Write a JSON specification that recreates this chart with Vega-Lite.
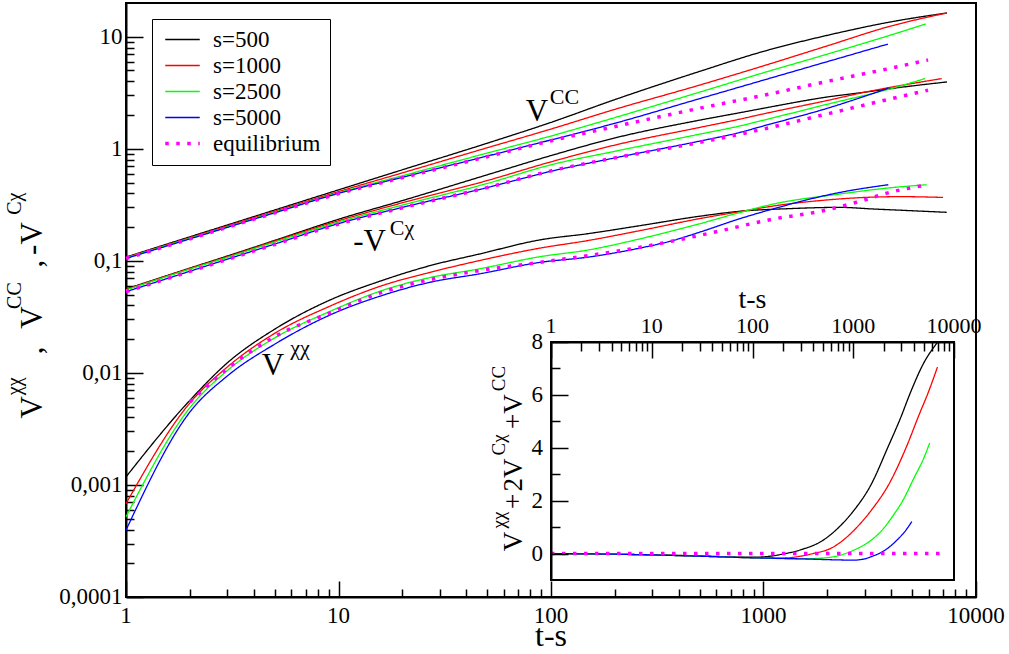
{
  "$schema": "https://vega.github.io/schema/vega-lite/v6.json",
  "autosize": {"type": "none"},
  "padding": {"left": 126, "top": 3, "right": 33, "bottom": 57},
  "width": 850,
  "height": 594,
  "background": "white",
  "config": {
    "font": "Liberation Serif",
    "view": {"stroke": "black", "strokeWidth": 2},
    "axis": {
      "domainColor": "black", "tickColor": "black", "grid": false,
      "domainWidth": 2, "tickWidth": 1.5, "labels": false, "title": null
    },
    "legend": {
      "labelFont": "Liberation Serif", "labelFontSize": 23, "labelColor": "black",
      "fillColor": "white", "strokeColor": "black", "padding": 9,
      "symbolType": "M-2.3,0H2.3", "symbolSize": 225, "symbolOffset": 10,
      "rowPadding": 2, "labelOffset": 19
    },
    "text": {"font": "Liberation Serif", "color": "black"}
  },
  "datasets": {
    "main": [
      {"series": "s=500", "group": "CC", "t": 1, "v": 0.108}, {"series": "s=500", "group": "CC", "t": 2, "v": 0.164}, {"series": "s=500", "group": "CC", "t": 3, "v": 0.209}, {"series": "s=500", "group": "CC", "t": 5, "v": 0.284}, {"series": "s=500", "group": "CC", "t": 10, "v": 0.43}, {"series": "s=500", "group": "CC", "t": 20, "v": 0.65}, {"series": "s=500", "group": "CC", "t": 50, "v": 1.12}, {"series": "s=500", "group": "CC", "t": 100, "v": 1.72}, {"series": "s=500", "group": "CC", "t": 200, "v": 2.75}, {"series": "s=500", "group": "CC", "t": 500, "v": 4.9}, {"series": "s=500", "group": "CC", "t": 1000, "v": 7.4}, {"series": "s=500", "group": "CC", "t": 2000, "v": 10.3}, {"series": "s=500", "group": "CC", "t": 4000, "v": 13.6}, {"series": "s=500", "group": "CC", "t": 7300, "v": 16.3},
      {"series": "s=500", "group": "Cx", "t": 1, "v": 0.056}, {"series": "s=500", "group": "Cx", "t": 2, "v": 0.0862}, {"series": "s=500", "group": "Cx", "t": 3, "v": 0.1105}, {"series": "s=500", "group": "Cx", "t": 5, "v": 0.152}, {"series": "s=500", "group": "Cx", "t": 10, "v": 0.235}, {"series": "s=500", "group": "Cx", "t": 20, "v": 0.345}, {"series": "s=500", "group": "Cx", "t": 50, "v": 0.585}, {"series": "s=500", "group": "Cx", "t": 100, "v": 0.87}, {"series": "s=500", "group": "Cx", "t": 200, "v": 1.25}, {"series": "s=500", "group": "Cx", "t": 500, "v": 1.8}, {"series": "s=500", "group": "Cx", "t": 775, "v": 2.1}, {"series": "s=500", "group": "Cx", "t": 1000, "v": 2.3}, {"series": "s=500", "group": "Cx", "t": 2000, "v": 2.9}, {"series": "s=500", "group": "Cx", "t": 3000, "v": 3.2}, {"series": "s=500", "group": "Cx", "t": 4000, "v": 3.45}, {"series": "s=500", "group": "Cx", "t": 7300, "v": 3.95},
      {"series": "s=500", "group": "xx", "t": 1, "v": 0.00118}, {"series": "s=500", "group": "xx", "t": 2, "v": 0.0057}, {"series": "s=500", "group": "xx", "t": 3, "v": 0.0123}, {"series": "s=500", "group": "xx", "t": 5, "v": 0.0245}, {"series": "s=500", "group": "xx", "t": 9, "v": 0.0442}, {"series": "s=500", "group": "xx", "t": 16, "v": 0.0667}, {"series": "s=500", "group": "xx", "t": 27, "v": 0.0907}, {"series": "s=500", "group": "xx", "t": 46, "v": 0.115}, {"series": "s=500", "group": "xx", "t": 89, "v": 0.154}, {"series": "s=500", "group": "xx", "t": 150, "v": 0.175}, {"series": "s=500", "group": "xx", "t": 262, "v": 0.206}, {"series": "s=500", "group": "xx", "t": 500, "v": 0.25}, {"series": "s=500", "group": "xx", "t": 775, "v": 0.277}, {"series": "s=500", "group": "xx", "t": 1300, "v": 0.292}, {"series": "s=500", "group": "xx", "t": 2290, "v": 0.3}, {"series": "s=500", "group": "xx", "t": 3300, "v": 0.29}, {"series": "s=500", "group": "xx", "t": 5000, "v": 0.28}, {"series": "s=500", "group": "xx", "t": 7280, "v": 0.271},
      {"series": "s=1000", "group": "CC", "t": 1, "v": 0.107}, {"series": "s=1000", "group": "CC", "t": 2, "v": 0.161}, {"series": "s=1000", "group": "CC", "t": 3, "v": 0.205}, {"series": "s=1000", "group": "CC", "t": 5, "v": 0.277}, {"series": "s=1000", "group": "CC", "t": 10, "v": 0.415}, {"series": "s=1000", "group": "CC", "t": 20, "v": 0.61}, {"series": "s=1000", "group": "CC", "t": 50, "v": 1.02}, {"series": "s=1000", "group": "CC", "t": 100, "v": 1.5}, {"series": "s=1000", "group": "CC", "t": 200, "v": 2.25}, {"series": "s=1000", "group": "CC", "t": 500, "v": 3.7}, {"series": "s=1000", "group": "CC", "t": 1000, "v": 5.5}, {"series": "s=1000", "group": "CC", "t": 2000, "v": 8.3}, {"series": "s=1000", "group": "CC", "t": 4000, "v": 12.5}, {"series": "s=1000", "group": "CC", "t": 7300, "v": 16.3},
      {"series": "s=1000", "group": "Cx", "t": 1, "v": 0.0555}, {"series": "s=1000", "group": "Cx", "t": 2, "v": 0.0855}, {"series": "s=1000", "group": "Cx", "t": 3, "v": 0.109}, {"series": "s=1000", "group": "Cx", "t": 5, "v": 0.15}, {"series": "s=1000", "group": "Cx", "t": 10, "v": 0.228}, {"series": "s=1000", "group": "Cx", "t": 20, "v": 0.33}, {"series": "s=1000", "group": "Cx", "t": 50, "v": 0.52}, {"series": "s=1000", "group": "Cx", "t": 100, "v": 0.765}, {"series": "s=1000", "group": "Cx", "t": 200, "v": 1.08}, {"series": "s=1000", "group": "Cx", "t": 500, "v": 1.55}, {"series": "s=1000", "group": "Cx", "t": 775, "v": 1.84}, {"series": "s=1000", "group": "Cx", "t": 1000, "v": 2.05}, {"series": "s=1000", "group": "Cx", "t": 2000, "v": 2.7}, {"series": "s=1000", "group": "Cx", "t": 3000, "v": 3.2}, {"series": "s=1000", "group": "Cx", "t": 4000, "v": 3.55}, {"series": "s=1000", "group": "Cx", "t": 6900, "v": 4.23},
      {"series": "s=1000", "group": "xx", "t": 1, "v": 0.00068}, {"series": "s=1000", "group": "xx", "t": 2, "v": 0.0054}, {"series": "s=1000", "group": "xx", "t": 3, "v": 0.0113}, {"series": "s=1000", "group": "xx", "t": 5, "v": 0.0225}, {"series": "s=1000", "group": "xx", "t": 9, "v": 0.039}, {"series": "s=1000", "group": "xx", "t": 16, "v": 0.06}, {"series": "s=1000", "group": "xx", "t": 27, "v": 0.079}, {"series": "s=1000", "group": "xx", "t": 46, "v": 0.1005}, {"series": "s=1000", "group": "xx", "t": 89, "v": 0.13}, {"series": "s=1000", "group": "xx", "t": 150, "v": 0.152}, {"series": "s=1000", "group": "xx", "t": 262, "v": 0.186}, {"series": "s=1000", "group": "xx", "t": 500, "v": 0.238}, {"series": "s=1000", "group": "xx", "t": 775, "v": 0.275}, {"series": "s=1000", "group": "xx", "t": 1200, "v": 0.315}, {"series": "s=1000", "group": "xx", "t": 1845, "v": 0.345}, {"series": "s=1000", "group": "xx", "t": 3000, "v": 0.368}, {"series": "s=1000", "group": "xx", "t": 4390, "v": 0.374}, {"series": "s=1000", "group": "xx", "t": 7000, "v": 0.368},
      {"series": "s=2500", "group": "CC", "t": 1, "v": 0.106}, {"series": "s=2500", "group": "CC", "t": 2, "v": 0.159}, {"series": "s=2500", "group": "CC", "t": 3, "v": 0.201}, {"series": "s=2500", "group": "CC", "t": 5, "v": 0.271}, {"series": "s=2500", "group": "CC", "t": 10, "v": 0.405}, {"series": "s=2500", "group": "CC", "t": 20, "v": 0.575}, {"series": "s=2500", "group": "CC", "t": 50, "v": 0.915}, {"series": "s=2500", "group": "CC", "t": 100, "v": 1.3}, {"series": "s=2500", "group": "CC", "t": 200, "v": 1.9}, {"series": "s=2500", "group": "CC", "t": 500, "v": 3.2}, {"series": "s=2500", "group": "CC", "t": 1000, "v": 4.77}, {"series": "s=2500", "group": "CC", "t": 2000, "v": 7.0}, {"series": "s=2500", "group": "CC", "t": 4000, "v": 10.4}, {"series": "s=2500", "group": "CC", "t": 5800, "v": 13.0},
      {"series": "s=2500", "group": "Cx", "t": 1, "v": 0.055}, {"series": "s=2500", "group": "Cx", "t": 2, "v": 0.0845}, {"series": "s=2500", "group": "Cx", "t": 3, "v": 0.1075}, {"series": "s=2500", "group": "Cx", "t": 5, "v": 0.147}, {"series": "s=2500", "group": "Cx", "t": 10, "v": 0.222}, {"series": "s=2500", "group": "Cx", "t": 20, "v": 0.315}, {"series": "s=2500", "group": "Cx", "t": 50, "v": 0.49}, {"series": "s=2500", "group": "Cx", "t": 100, "v": 0.72}, {"series": "s=2500", "group": "Cx", "t": 200, "v": 0.95}, {"series": "s=2500", "group": "Cx", "t": 500, "v": 1.35}, {"series": "s=2500", "group": "Cx", "t": 775, "v": 1.6}, {"series": "s=2500", "group": "Cx", "t": 1000, "v": 1.8}, {"series": "s=2500", "group": "Cx", "t": 2000, "v": 2.5}, {"series": "s=2500", "group": "Cx", "t": 4000, "v": 3.45}, {"series": "s=2500", "group": "Cx", "t": 5750, "v": 4.23},
      {"series": "s=2500", "group": "xx", "t": 1, "v": 0.00052}, {"series": "s=2500", "group": "xx", "t": 2, "v": 0.0049}, {"series": "s=2500", "group": "xx", "t": 3, "v": 0.0105}, {"series": "s=2500", "group": "xx", "t": 5, "v": 0.0205}, {"series": "s=2500", "group": "xx", "t": 9, "v": 0.035}, {"series": "s=2500", "group": "xx", "t": 16, "v": 0.0543}, {"series": "s=2500", "group": "xx", "t": 27, "v": 0.071}, {"series": "s=2500", "group": "xx", "t": 46, "v": 0.0848}, {"series": "s=2500", "group": "xx", "t": 89, "v": 0.109}, {"series": "s=2500", "group": "xx", "t": 150, "v": 0.125}, {"series": "s=2500", "group": "xx", "t": 262, "v": 0.157}, {"series": "s=2500", "group": "xx", "t": 500, "v": 0.214}, {"series": "s=2500", "group": "xx", "t": 775, "v": 0.27}, {"series": "s=2500", "group": "xx", "t": 1112, "v": 0.321}, {"series": "s=2500", "group": "xx", "t": 2290, "v": 0.395}, {"series": "s=2500", "group": "xx", "t": 4000, "v": 0.45}, {"series": "s=2500", "group": "xx", "t": 5860, "v": 0.478},
      {"series": "s=5000", "group": "CC", "t": 1, "v": 0.105}, {"series": "s=5000", "group": "CC", "t": 2, "v": 0.157}, {"series": "s=5000", "group": "CC", "t": 3, "v": 0.199}, {"series": "s=5000", "group": "CC", "t": 5, "v": 0.268}, {"series": "s=5000", "group": "CC", "t": 10, "v": 0.4}, {"series": "s=5000", "group": "CC", "t": 20, "v": 0.557}, {"series": "s=5000", "group": "CC", "t": 50, "v": 0.86}, {"series": "s=5000", "group": "CC", "t": 100, "v": 1.2}, {"series": "s=5000", "group": "CC", "t": 200, "v": 1.69}, {"series": "s=5000", "group": "CC", "t": 500, "v": 2.8}, {"series": "s=5000", "group": "CC", "t": 1000, "v": 4.1}, {"series": "s=5000", "group": "CC", "t": 2000, "v": 6.0}, {"series": "s=5000", "group": "CC", "t": 3850, "v": 8.6},
      {"series": "s=5000", "group": "Cx", "t": 1, "v": 0.053}, {"series": "s=5000", "group": "Cx", "t": 2, "v": 0.0808}, {"series": "s=5000", "group": "Cx", "t": 3, "v": 0.1035}, {"series": "s=5000", "group": "Cx", "t": 5, "v": 0.141}, {"series": "s=5000", "group": "Cx", "t": 10, "v": 0.215}, {"series": "s=5000", "group": "Cx", "t": 20, "v": 0.3}, {"series": "s=5000", "group": "Cx", "t": 50, "v": 0.45}, {"series": "s=5000", "group": "Cx", "t": 100, "v": 0.63}, {"series": "s=5000", "group": "Cx", "t": 200, "v": 0.83}, {"series": "s=5000", "group": "Cx", "t": 500, "v": 1.17}, {"series": "s=5000", "group": "Cx", "t": 775, "v": 1.4}, {"series": "s=5000", "group": "Cx", "t": 1000, "v": 1.6}, {"series": "s=5000", "group": "Cx", "t": 2000, "v": 2.3}, {"series": "s=5000", "group": "Cx", "t": 3866, "v": 3.47},
      {"series": "s=5000", "group": "xx", "t": 1, "v": 0.000395}, {"series": "s=5000", "group": "xx", "t": 2, "v": 0.00448}, {"series": "s=5000", "group": "xx", "t": 3, "v": 0.0094}, {"series": "s=5000", "group": "xx", "t": 5, "v": 0.018}, {"series": "s=5000", "group": "xx", "t": 9, "v": 0.0325}, {"series": "s=5000", "group": "xx", "t": 16, "v": 0.049}, {"series": "s=5000", "group": "xx", "t": 27, "v": 0.0644}, {"series": "s=5000", "group": "xx", "t": 46, "v": 0.0765}, {"series": "s=5000", "group": "xx", "t": 89, "v": 0.097}, {"series": "s=5000", "group": "xx", "t": 150, "v": 0.108}, {"series": "s=5000", "group": "xx", "t": 262, "v": 0.13}, {"series": "s=5000", "group": "xx", "t": 380, "v": 0.153}, {"series": "s=5000", "group": "xx", "t": 500, "v": 0.18}, {"series": "s=5000", "group": "xx", "t": 775, "v": 0.238}, {"series": "s=5000", "group": "xx", "t": 1035, "v": 0.28}, {"series": "s=5000", "group": "xx", "t": 2290, "v": 0.408}, {"series": "s=5000", "group": "xx", "t": 3866, "v": 0.478},
      {"series": "equilibrium", "group": "CC", "t": 1, "v": 0.105}, {"series": "equilibrium", "group": "CC", "t": 2, "v": 0.157}, {"series": "equilibrium", "group": "CC", "t": 3, "v": 0.199}, {"series": "equilibrium", "group": "CC", "t": 5, "v": 0.268}, {"series": "equilibrium", "group": "CC", "t": 10, "v": 0.398}, {"series": "equilibrium", "group": "CC", "t": 20, "v": 0.553}, {"series": "equilibrium", "group": "CC", "t": 50, "v": 0.85}, {"series": "equilibrium", "group": "CC", "t": 100, "v": 1.18}, {"series": "equilibrium", "group": "CC", "t": 200, "v": 1.58}, {"series": "equilibrium", "group": "CC", "t": 500, "v": 2.3}, {"series": "equilibrium", "group": "CC", "t": 1000, "v": 3.0}, {"series": "equilibrium", "group": "CC", "t": 2000, "v": 4.0}, {"series": "equilibrium", "group": "CC", "t": 4000, "v": 5.25}, {"series": "equilibrium", "group": "CC", "t": 5950, "v": 6.2},
      {"series": "equilibrium", "group": "Cx", "t": 1, "v": 0.053}, {"series": "equilibrium", "group": "Cx", "t": 2, "v": 0.0805}, {"series": "equilibrium", "group": "Cx", "t": 3, "v": 0.103}, {"series": "equilibrium", "group": "Cx", "t": 5, "v": 0.14}, {"series": "equilibrium", "group": "Cx", "t": 10, "v": 0.213}, {"series": "equilibrium", "group": "Cx", "t": 20, "v": 0.298}, {"series": "equilibrium", "group": "Cx", "t": 50, "v": 0.45}, {"series": "equilibrium", "group": "Cx", "t": 100, "v": 0.635}, {"series": "equilibrium", "group": "Cx", "t": 200, "v": 0.83}, {"series": "equilibrium", "group": "Cx", "t": 500, "v": 1.14}, {"series": "equilibrium", "group": "Cx", "t": 775, "v": 1.35}, {"series": "equilibrium", "group": "Cx", "t": 1000, "v": 1.5}, {"series": "equilibrium", "group": "Cx", "t": 2000, "v": 2.05}, {"series": "equilibrium", "group": "Cx", "t": 4000, "v": 2.8}, {"series": "equilibrium", "group": "Cx", "t": 5950, "v": 3.33},
      {"series": "equilibrium", "group": "xx", "t": 2, "v": 0.0055}, {"series": "equilibrium", "group": "xx", "t": 3, "v": 0.0109}, {"series": "equilibrium", "group": "xx", "t": 5, "v": 0.021}, {"series": "equilibrium", "group": "xx", "t": 9, "v": 0.034}, {"series": "equilibrium", "group": "xx", "t": 16, "v": 0.0524}, {"series": "equilibrium", "group": "xx", "t": 27, "v": 0.068}, {"series": "equilibrium", "group": "xx", "t": 46, "v": 0.0819}, {"series": "equilibrium", "group": "xx", "t": 89, "v": 0.097}, {"series": "equilibrium", "group": "xx", "t": 262, "v": 0.132}, {"series": "equilibrium", "group": "xx", "t": 540, "v": 0.174}, {"series": "equilibrium", "group": "xx", "t": 1112, "v": 0.236}, {"series": "equilibrium", "group": "xx", "t": 1911, "v": 0.28}, {"series": "equilibrium", "group": "xx", "t": 2740, "v": 0.333}, {"series": "equilibrium", "group": "xx", "t": 3926, "v": 0.408}, {"series": "equilibrium", "group": "xx", "t": 5950, "v": 0.478}
    ],
    "inset": [
      {"series": "s=500", "t": 1, "w": 0}, {"series": "s=500", "t": 3, "w": -0.02}, {"series": "s=500", "t": 10, "w": -0.05}, {"series": "s=500", "t": 30, "w": -0.09}, {"series": "s=500", "t": 100, "w": -0.14}, {"series": "s=500", "t": 150, "w": -0.1}, {"series": "s=500", "t": 200, "w": -0.02}, {"series": "s=500", "t": 300, "w": 0.14}, {"series": "s=500", "t": 500, "w": 0.5}, {"series": "s=500", "t": 700, "w": 0.95}, {"series": "s=500", "t": 1000, "w": 1.6}, {"series": "s=500", "t": 1500, "w": 2.6}, {"series": "s=500", "t": 2195, "w": 4.0}, {"series": "s=500", "t": 3000, "w": 5.2}, {"series": "s=500", "t": 3617, "w": 6.0}, {"series": "s=500", "t": 5000, "w": 7.2}, {"series": "s=500", "t": 6900, "w": 8.0},
      {"series": "s=1000", "t": 1, "w": 0}, {"series": "s=1000", "t": 10, "w": -0.05}, {"series": "s=1000", "t": 30, "w": -0.1}, {"series": "s=1000", "t": 100, "w": -0.16}, {"series": "s=1000", "t": 200, "w": -0.17}, {"series": "s=1000", "t": 300, "w": -0.1}, {"series": "s=1000", "t": 400, "w": 0}, {"series": "s=1000", "t": 600, "w": 0.2}, {"series": "s=1000", "t": 760, "w": 0.45}, {"series": "s=1000", "t": 1060, "w": 0.95}, {"series": "s=1000", "t": 1520, "w": 1.65}, {"series": "s=1000", "t": 2280, "w": 2.65}, {"series": "s=1000", "t": 3340, "w": 4.0}, {"series": "s=1000", "t": 4560, "w": 5.3}, {"series": "s=1000", "t": 5500, "w": 6.05}, {"series": "s=1000", "t": 6850, "w": 7.05},
      {"series": "s=2500", "t": 1, "w": 0}, {"series": "s=2500", "t": 10, "w": -0.05}, {"series": "s=2500", "t": 30, "w": -0.1}, {"series": "s=2500", "t": 100, "w": -0.16}, {"series": "s=2500", "t": 300, "w": -0.2}, {"series": "s=2500", "t": 500, "w": -0.17}, {"series": "s=2500", "t": 838, "w": 0}, {"series": "s=2500", "t": 1000, "w": 0.12}, {"series": "s=2500", "t": 1500, "w": 0.5}, {"series": "s=2500", "t": 2000, "w": 0.95}, {"series": "s=2500", "t": 2500, "w": 1.45}, {"series": "s=2500", "t": 3100, "w": 2.0}, {"series": "s=2500", "t": 4000, "w": 2.85}, {"series": "s=2500", "t": 5000, "w": 3.6}, {"series": "s=2500", "t": 5740, "w": 4.18},
      {"series": "s=5000", "t": 1, "w": 0}, {"series": "s=5000", "t": 10, "w": -0.05}, {"series": "s=5000", "t": 30, "w": -0.1}, {"series": "s=5000", "t": 100, "w": -0.16}, {"series": "s=5000", "t": 300, "w": -0.2}, {"series": "s=5000", "t": 700, "w": -0.24}, {"series": "s=5000", "t": 1000, "w": -0.25}, {"series": "s=5000", "t": 1300, "w": -0.2}, {"series": "s=5000", "t": 1600, "w": -0.08}, {"series": "s=5000", "t": 1800, "w": 0}, {"series": "s=5000", "t": 2200, "w": 0.2}, {"series": "s=5000", "t": 2700, "w": 0.5}, {"series": "s=5000", "t": 3200, "w": 0.8}, {"series": "s=5000", "t": 3818, "w": 1.21},
      {"series": "equilibrium", "t": 1, "w": 0}, {"series": "equilibrium", "t": 8400, "w": 0}
    ],
    "frame": [{"x1": 1, "x2": 10000, "y1": -1, "y2": 8}],
    "xTicks": [
      {"value": 1, "label": "1"}, {"value": 10, "label": "10"}, {"value": 100, "label": "100"}, {"value": 1000, "label": "1000"}, {"value": 10000, "label": "10000"}
    ],
    "yTicks": [
      {"value": 0.0001, "label": "0,0001"}, {"value": 0.001, "label": "0,001"}, {"value": 0.01, "label": "0,01"}, {"value": 0.1, "label": "0,1"}, {"value": 1, "label": "1"}, {"value": 10, "label": "10"}
    ],
    "insetYTicks": [
      {"value": 0, "label": "0"}, {"value": 2, "label": "2"}, {"value": 4, "label": "4"}, {"value": 6, "label": "6"}, {"value": 8, "label": "8"}
    ],
    "xTitle": [{"label": "t-s"}],
    "mainBig": [
      {"t": 85.9, "v": 1.776, "text": "V"},
      {"t": 14.0, "v": 0.1234, "text": "-V"},
      {"t": 4.92, "v": 0.0095, "text": "V"}
    ],
    "mainSup": [
      {"t": 115.8, "v": 2.52, "text": "CC"},
      {"t": 19.9, "v": 0.1714, "text": "Cχ"},
      {"t": 6.59, "v": 0.01432, "text": "χχ"}
    ],
    "yTitleBig": [
      {"t": 0.402, "v": 0.00493, "text": "V"},
      {"t": 0.402, "v": 0.0159, "text": ","},
      {"t": 0.402, "v": 0.0312, "text": "V"},
      {"t": 0.402, "v": 0.0945, "text": ","},
      {"t": 0.402, "v": 0.158, "text": "-V"}
    ],
    "yTitleSup": [
      {"t": 0.32, "v": 0.00758, "text": "χχ"},
      {"t": 0.32, "v": 0.049, "text": "CC"},
      {"t": 0.32, "v": 0.324, "text": "Cχ"}
    ],
    "insetTitleBig": [
      {"t": 0.515, "v": 0.458, "text": "V"},
      {"t": 0.515, "v": 1.97, "text": "+"},
      {"t": 0.515, "v": 2.97, "text": "2V"},
      {"t": 0.515, "v": 5.37, "text": "+V"}
    ],
    "insetTitleSup": [
      {"t": 0.35, "v": 1.27, "text": "χχ"},
      {"t": 0.35, "v": 4.11, "text": "Cχ"},
      {"t": 0.35, "v": 6.62, "text": "CC"}
    ]
  },
  "layer": [
    {
      "layer": [
        {
          "data": {"name": "main"},
          "mark": {"type": "line", "interpolate": "monotone"},
          "encoding": {
            "x": {"field": "t", "type": "quantitative",
              "scale": {"type": "log", "domain": [1, 10000], "nice": false},
              "axis": {"orient": "bottom", "values": [1, 10, 100, 1000, 10000], "tickSize": -16}},
            "y": {"field": "v", "type": "quantitative",
              "scale": {"type": "log", "domain": [0.0001, 20], "nice": false},
              "axis": {"orient": "left", "values": [0.0001, 0.001, 0.01, 0.1, 1, 10], "tickSize": -17}},
            "color": {"field": "series", "type": "nominal",
              "scale": {"domain": ["s=500", "s=1000", "s=2500", "s=5000", "equilibrium"], "range": ["#000000", "#ff0000", "#00ff00", "#0000ff", "#ff00ff"]},
              "legend": {"title": null, "orient": "none", "legendX": 26, "legendY": 16}},
            "strokeDash": {"field": "series", "type": "nominal",
              "scale": {"domain": ["s=500", "s=1000", "s=2500", "s=5000", "equilibrium"], "range": [[1, 0], [1, 0], [1, 0], [1, 0], [3.5, 7.5]]},
              "legend": {"title": null, "orient": "none", "legendX": 26, "legendY": 16}},
            "strokeWidth": {"field": "series", "type": "nominal",
              "scale": {"type": "ordinal", "domain": ["s=500", "s=1000", "s=2500", "s=5000", "equilibrium"], "range": [1.3, 1.3, 1.3, 1.3, 3.5]},
              "legend": {"title": null, "orient": "none", "legendX": 26, "legendY": 16}},
            "detail": {"field": "group", "type": "nominal"}
          }
        },
        {
          "data": {"name": "mainBig"},
          "mark": {"type": "text", "fontSize": 31, "baseline": "alphabetic", "align": "center"},
          "encoding": {
            "x": {"field": "t", "type": "quantitative",
              "axis": {"orient": "bottom", "values": [2, 3, 4, 5, 6, 7, 8, 9, 20, 30, 40, 50, 60, 70, 80, 90, 200, 300, 400, 500, 600, 700, 800, 900, 2000, 3000, 4000, 5000, 6000, 7000, 8000, 9000],
                "tickSize": -8, "domain": false}},
            "y": {"field": "v", "type": "quantitative",
              "axis": {"orient": "left", "values": [0.0002, 0.0003, 0.0004, 0.0005, 0.0006, 0.0007, 0.0008, 0.0009, 0.002, 0.003, 0.004, 0.005, 0.006, 0.007, 0.008, 0.009, 0.02, 0.03, 0.04, 0.05, 0.06, 0.07, 0.08, 0.09, 0.2, 0.3, 0.4, 0.5, 0.6, 0.7, 0.8, 0.9, 2, 3, 4, 5, 6, 7, 8, 9],
                "tickSize": -8, "domain": false}},
            "text": {"field": "text"}
          }
        },
        {
          "data": {"name": "mainSup"},
          "mark": {"type": "text", "fontSize": 22, "baseline": "alphabetic", "align": "center"},
          "encoding": {
            "x": {"field": "t", "type": "quantitative", "axis": null},
            "y": {"field": "v", "type": "quantitative", "axis": null},
            "text": {"field": "text"}
          }
        },
        {
          "data": {"name": "yTitleBig"},
          "mark": {"type": "text", "fontSize": 31, "baseline": "alphabetic", "align": "center", "angle": 270},
          "encoding": {
            "x": {"field": "t", "type": "quantitative", "axis": null},
            "y": {"field": "v", "type": "quantitative", "axis": null},
            "text": {"field": "text"}
          }
        },
        {
          "data": {"name": "yTitleSup"},
          "mark": {"type": "text", "fontSize": 20, "baseline": "alphabetic", "align": "center", "angle": 270},
          "encoding": {
            "x": {"field": "t", "type": "quantitative", "axis": null},
            "y": {"field": "v", "type": "quantitative", "axis": null},
            "text": {"field": "text"}
          }
        },
        {
          "data": {"name": "xTicks"},
          "mark": {"type": "text", "fontSize": 23, "baseline": "alphabetic", "align": "center"},
          "encoding": {
            "x": {"field": "value", "type": "quantitative", "axis": null},
            "y": {"datum": 0.0000587, "type": "quantitative", "axis": null},
            "text": {"field": "label"}
          }
        },
        {
          "data": {"name": "yTicks"},
          "mark": {"type": "text", "fontSize": 23, "baseline": "middle", "align": "right"},
          "encoding": {
            "x": {"datum": 0.962, "type": "quantitative", "axis": null},
            "y": {"field": "value", "type": "quantitative", "axis": null},
            "text": {"field": "label"}
          }
        },
        {
          "data": {"name": "xTitle"},
          "mark": {"type": "text", "fontSize": 32, "baseline": "alphabetic", "align": "center"},
          "encoding": {
            "x": {"datum": 100, "type": "quantitative", "axis": null},
            "y": {"datum": 0.0000366, "type": "quantitative", "axis": null},
            "text": {"field": "label"}
          }
        }
      ],
      "resolve": {"axis": {"x": "independent", "y": "independent"}}
    },
    {
      "layer": [
        {
          "data": {"name": "frame"},
          "mark": {"type": "rect", "filled": false, "stroke": "black", "strokeWidth": 2},
          "encoding": {
            "x": {"field": "x1", "type": "quantitative",
              "scale": {"type": "log", "domain": [1, 10000], "range": [425, 828], "nice": false},
              "axis": {"orient": "top", "offset": -339, "zindex": 1, "values": [2, 3, 4, 5, 6, 7, 8, 9, 20, 30, 40, 50, 60, 70, 80, 90, 200, 300, 400, 500, 600, 700, 800, 900, 2000, 3000, 4000, 5000, 6000, 7000, 8000, 9000],
                "tickSize": -9, "domain": false}},
            "x2": {"field": "x2"},
            "y": {"field": "y1", "type": "quantitative",
              "scale": {"domain": [-1, 8], "range": [577, 339], "nice": false},
              "axis": {"orient": "left", "offset": -425, "zindex": 1, "values": [1, 3, 5, 7],
                "tickSize": -9, "domain": false}},
            "y2": {"field": "y2"}
          }
        },
        {
          "data": {"name": "inset"},
          "mark": {"type": "line", "interpolate": "monotone", "clip": true},
          "encoding": {
            "x": {"field": "t", "type": "quantitative",
              "axis": {"orient": "top", "offset": -339, "zindex": 1, "values": [1, 10, 100, 1000, 10000], "tickSize": -16}},
            "y": {"field": "w", "type": "quantitative",
              "axis": {"orient": "left", "offset": -425, "zindex": 1, "values": [0, 2, 4, 6, 8], "tickSize": -17}},
            "color": {"field": "series", "type": "nominal",
              "scale": {"domain": ["s=500", "s=1000", "s=2500", "s=5000", "equilibrium"], "range": ["#000000", "#ff0000", "#00ff00", "#0000ff", "#ff00ff"]},
              "legend": {"title": null, "orient": "none", "legendX": 26, "legendY": 16}},
            "strokeDash": {"field": "series", "type": "nominal",
              "scale": {"domain": ["s=500", "s=1000", "s=2500", "s=5000", "equilibrium"], "range": [[1, 0], [1, 0], [1, 0], [1, 0], [3.5, 7.5]]},
              "legend": {"title": null, "orient": "none", "legendX": 26, "legendY": 16}},
            "strokeWidth": {"field": "series", "type": "nominal",
              "scale": {"type": "ordinal", "domain": ["s=500", "s=1000", "s=2500", "s=5000", "equilibrium"], "range": [1.3, 1.3, 1.3, 1.3, 3.5]},
              "legend": {"title": null, "orient": "none", "legendX": 26, "legendY": 16}}
          }
        },
        {
          "data": {"name": "insetTitleBig"},
          "mark": {"type": "text", "fontSize": 27, "baseline": "alphabetic", "align": "center", "angle": 270},
          "encoding": {
            "x": {"field": "t", "type": "quantitative", "axis": null},
            "y": {"field": "v", "type": "quantitative", "axis": null},
            "text": {"field": "text"}
          }
        },
        {
          "data": {"name": "insetTitleSup"},
          "mark": {"type": "text", "fontSize": 19, "baseline": "alphabetic", "align": "center", "angle": 270},
          "encoding": {
            "x": {"field": "t", "type": "quantitative", "axis": null},
            "y": {"field": "v", "type": "quantitative", "axis": null},
            "text": {"field": "text"}
          }
        },
        {
          "data": {"name": "xTicks"},
          "mark": {"type": "text", "fontSize": 22, "baseline": "alphabetic", "align": "center"},
          "encoding": {
            "x": {"field": "value", "type": "quantitative", "axis": null},
            "y": {"datum": 8.34, "type": "quantitative", "axis": null},
            "text": {"field": "label"}
          }
        },
        {
          "data": {"name": "insetYTicks"},
          "mark": {"type": "text", "fontSize": 23, "baseline": "middle", "align": "right"},
          "encoding": {
            "x": {"datum": 0.833, "type": "quantitative", "axis": null},
            "y": {"field": "value", "type": "quantitative", "axis": null},
            "text": {"field": "label"}
          }
        },
        {
          "data": {"name": "xTitle"},
          "mark": {"type": "text", "fontSize": 28, "baseline": "alphabetic", "align": "center"},
          "encoding": {
            "x": {"datum": 100, "type": "quantitative", "axis": null},
            "y": {"datum": 9.29, "type": "quantitative", "axis": null},
            "text": {"field": "label"}
          }
        }
      ],
      "resolve": {"axis": {"x": "independent", "y": "independent"}}
    }
  ],
  "resolve": {"scale": {"x": "independent", "y": "independent"}}
}
